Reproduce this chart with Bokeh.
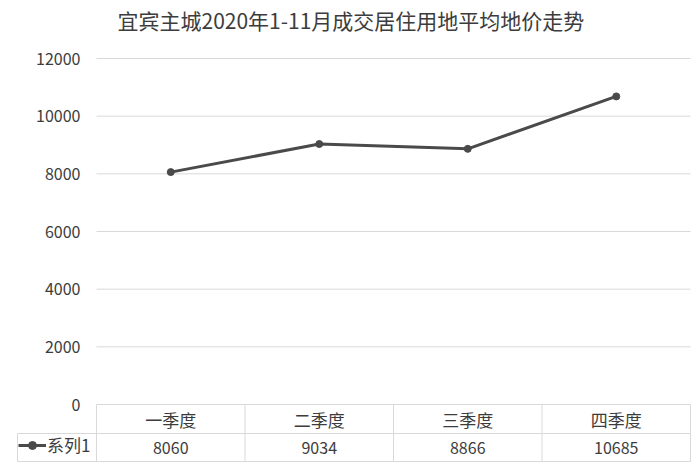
from bokeh.plotting import figure
from bokeh.models import ColumnDataSource, Title, Legend, LegendItem, Range1d
from bokeh.core.properties import value
from bokeh.embed import file_html
from bokeh.resources import INLINE

# ---- data ----
title_text = "宜宾主城2020年1-11月成交居住用地平均地价走势"
quarters = ["一季度", "二季度", "三季度", "四季度"]
prices = [8060, 9034, 8866, 10685]
series_name = "系列1"
y_ticks = [0, 2000, 4000, 6000, 8000, 10000, 12000]

# ---- layout helpers ----
W, H = 700, 467
STANDOFF = 4
TOP = 32 + STANDOFF      # frame top (figure px), set by the title panel
LEFT = 12
PX_PLOT = 346            # px from 0 to 12000
u = 12000 / PX_PLOT      # data units per px
y_top = 12000 + (58 - TOP) * u
frame_h = H - TOP
y_min = y_top - frame_h * u
col_px = 148.5
x_min = -(84 / col_px)
x_max = len(quarters) + 10 / col_px

row1_bottom = -29 * u
row1_mid = -14.5 * u
row2_mid = -43 * u
table_bottom = -57 * u
left_edge = -(79 / col_px)

TXT = "#3c3c3c"
GRID = "#d9d9d9"
FONT = "Noto Sans CJK SC"

p = figure(width=W, height=H, output_backend="svg", toolbar_location=None,
           x_axis_type=None, y_axis_type=None,
           x_range=Range1d(x_min, x_max), y_range=Range1d(y_min, y_top),
           min_border_left=LEFT, min_border_right=0, min_border_bottom=0,
           min_border_top=0)
p.outline_line_color = None
p.xgrid.visible = False
p.ygrid.visible = False

p.add_layout(Title(text=title_text, align="left", text_font_size="21px",
                   text_font_style="normal", text_color=TXT, text_font=FONT,
                   standoff=STANDOFF, offset=105), "above")

n = len(quarters)
xs = [i + 0.5 for i in range(n)]

# gridlines (y >= 0)
p.segment(x0=[0] * len(y_ticks), x1=[n] * len(y_ticks), y0=y_ticks, y1=y_ticks,
          line_color=GRID, line_width=1)
# tick labels
p.text(x=[0] * len(y_ticks), y=y_ticks, text=[f"{t}" for t in y_ticks],
       text_align="right", text_baseline="middle", x_offset=-16,
       text_font=value(FONT), text_font_size="16px", text_color=TXT)

# table lines
p.segment(x0=[left_edge, left_edge], x1=[n, n], y0=[row1_bottom, table_bottom],
          y1=[row1_bottom, table_bottom], line_color=GRID, line_width=1)
p.segment(x0=list(range(n + 1)), x1=list(range(n + 1)),
          y0=[0] * (n + 1), y1=[table_bottom] * (n + 1), line_color=GRID, line_width=1)
p.segment(x0=[left_edge], x1=[left_edge], y0=[row1_bottom], y1=[table_bottom],
          line_color=GRID, line_width=1)

# table text
p.text(x=xs, y=[row1_mid] * n, text=quarters, text_align="center",
       text_baseline="middle", text_font=value(FONT), text_font_size="17px",
       text_color=TXT)
p.text(x=xs, y=[row2_mid] * n, text=[str(v) for v in prices], text_align="center",
       text_baseline="middle", text_font=value(FONT), text_font_size="16px",
       text_color=TXT)

# series
src = ColumnDataSource(dict(x=xs, y=prices))
ln = p.line("x", "y", source=src, line_color="#4a4a4a", line_width=3)
pts = p.scatter("x", "y", source=src, size=7, fill_color="#4a4a4a",
                line_color="#4a4a4a")

legend = Legend(items=[LegendItem(label=series_name, renderers=[ln, pts])],
                location=(6, 10), background_fill_alpha=0, border_line_color=None,
                padding=0, margin=0, spacing=0, glyph_width=28, glyph_height=20,
                label_height=20, label_standoff=1, label_text_font_size="17px",
                label_text_color=TXT, label_text_font=FONT)
p.add_layout(legend)

open("out.html", "w").write(file_html(p, INLINE))
